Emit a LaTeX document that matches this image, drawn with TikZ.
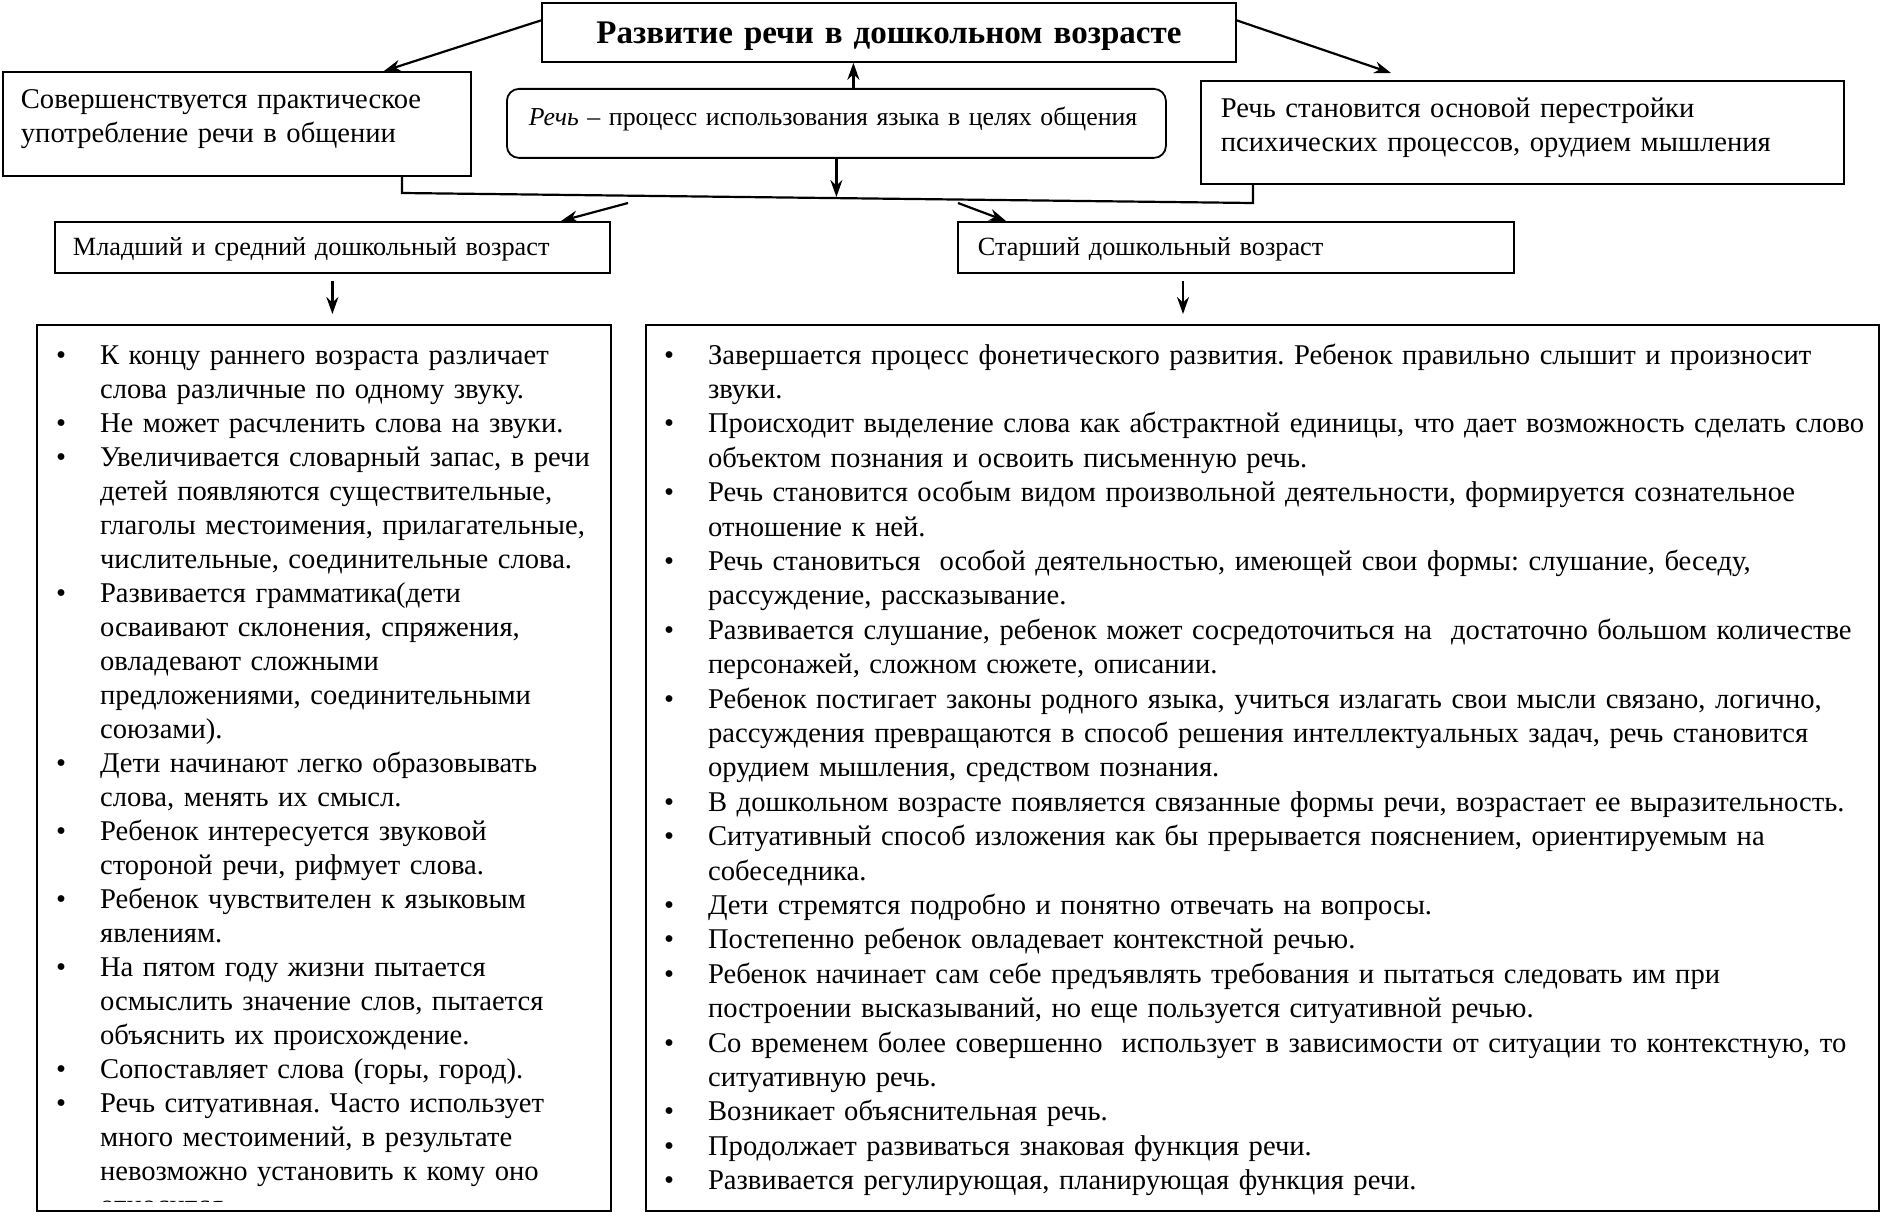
\documentclass[tikz,border=0pt]{standalone}
\usepackage{fontspec}
\setmainfont{Liberation Serif}
\usetikzlibrary{arrows.meta}
\frenchspacing

\newcommand\itm{\leavevmode\llap{\textbullet\hspace{34pt}}}

\begin{document}
\begin{tikzpicture}[x=1pt, y=-1pt, >={Stealth[length=17pt, width=12pt]}, line width=2.2pt,
    box/.style={draw, line width=1.8pt, inner ysep=0pt, anchor=north west, align=left,
                font=\fontsize{28.6}{34}\selectfont},
    small/.style={font=\fontsize{26.3}{30}\selectfont},
    lst/.style={inner sep=0pt, anchor=base west, align=left}]
    \useasboundingbox (0,0) rectangle (1880,1212);

    % Title
    \node[box, align=center, text width=694pt, inner xsep=0pt, text height=40.5pt, text depth=18.5pt,
          font=\fontsize{33}{40}\selectfont\bfseries] (ttl) at (541,2) {Развитие речи в дошкольном возрасте};

    % Top row
    \node[box, inner xsep=18pt, text width=432pt, text height=36.5pt, text depth=67.5pt] (prakt) at (2,71)
        {Совершенствуется практическое\\употребление речи в общении};
    \node[box, font=\fontsize{25.8}{30}\selectfont, rounded corners=12pt, inner xsep=22pt, text width=615pt,
          text height=37pt, text depth=32pt] (defn) at (506,88)
        {\mbox{\textit{Речь} – процесс использования языка в целях общения}};
    \node[box, inner xsep=20pt, text width=603pt, text height=37pt, text depth=66pt] (osnova) at (1200,80)
        {Речь становится основой перестройки\\психических процессов, орудием мышления};

    % Age groups
    \node[box, small, inner xsep=18pt, text width=519pt, text height=33.5pt, text depth=17.5pt] (mlad) at (54,221)
        {Младший и средний дошкольный возраст};
    \node[box, small, inner xsep=20pt, text width=516pt, text height=33.5pt, text depth=17.5pt] (star) at (957,221)
        {Старший дошкольный возраст};

    % List frames
    \node[box, minimum width=574pt, minimum height=886pt] (lspis) at (36,324) {};
    \node[box, minimum width=1233pt, minimum height=886pt] (rspis) at (645,324) {};

    % Arrows from the title and to it
    \draw[->] ([yshift=12pt]ttl.west) -- ([xshift=382pt]prakt.north west);
    \draw[->] ([yshift=12pt]ttl.east) -- ([xshift=191pt, yshift=7pt]osnova.north west);
    \coordinate (up) at ([xshift=17pt]defn.north);
    \draw[->] (up) -- (up |- ttl.south);

    % Joining line
    \coordinate (jl) at (402,193);
    \coordinate (jr) at (1253,203);
    \coordinate (jm) at (835,197);
    \draw ([xshift=400pt]prakt.south west) -- (jl) -- (jr) -- (jr |- osnova.south);
    \draw[->] (defn.south) -- (defn.south |- jm);

    % To the age groups
    \coordinate (ml0) at (628,203);
    \coordinate (st0) at (958,203);
    \draw[->] (ml0) -- ([xshift=507pt]mlad.north west);
    \draw[->] (st0) -- ([xshift=49pt]star.north west);

    % Down to the lists
    \coordinate (ma) at ([yshift=-7pt]mlad.south);
    \coordinate (mb) at (ma |- lspis.north);
    \draw[->] (ma) -- ([yshift=10pt]mb);
    \coordinate (sa) at ([xshift=226pt, yshift=-7pt]star.south west);
    \coordinate (sb) at (sa |- rspis.north);
    \draw[->] (sa) -- ([yshift=10pt]sb);

    % Left list
    \begin{scope}
        \clip (37,325) rectangle (609,1201);
        \node[lst, font=\fontsize{28.6}{34}\selectfont, text width=560pt] (ltxt) at (99,364) {%
\itm К концу раннего возраста различает\\
слова различные по одному звуку.\\
\itm Не может расчленить слова на звуки.\\
\itm Увеличивается словарный запас, в речи\\
детей появляются существительные,\\
глаголы местоимения, прилагательные,\\
числительные, соединительные слова.\\
\itm Развивается грамматика(дети\\
осваивают склонения, спряжения,\\
овладевают сложными\\
предложениями, соединительными\\
союзами).\\
\itm Дети начинают легко образовывать\\
слова, менять их смысл.\\
\itm Ребенок интересуется звуковой\\
стороной речи, рифмует слова.\\
\itm Ребенок чувствителен к языковым\\
явлениям.\\
\itm На пятом году жизни пытается\\
осмыслить значение слов, пытается\\
объяснить их происхождение.\\
\itm Сопоставляет слова (горы, город).\\
\itm Речь ситуативная. Часто использует\\
много местоимений, в результате\\
невозможно установить к кому оно\\
относится.};
    \end{scope}

    % Right list
    \node[lst, font=\fontsize{28.6}{34.4}\selectfont, text width=1200pt] (rtxt) at (707,364) {%
\itm Завершается процесс фонетического развития. Ребенок правильно слышит и произносит\\
звуки.\\
\itm Происходит выделение слова как абстрактной единицы, что дает возможность сделать слово\\
объектом познания и освоить письменную речь.\\
\itm Речь становится особым видом произвольной деятельности, формируется сознательное\\
отношение к ней.\\
\itm Речь становиться~ особой деятельностью, имеющей свои формы: слушание, беседу,\\
рассуждение, рассказывание.\\
\itm Развивается слушание, ребенок может сосредоточиться на~ достаточно большом количестве\\
персонажей, сложном сюжете, описании.\\
\itm Ребенок постигает законы родного языка, учиться излагать свои мысли связано, логично,\\
рассуждения превращаются в способ решения интеллектуальных задач, речь становится\\
орудием мышления, средством познания.\\
\itm В дошкольном возрасте появляется связанные формы речи, возрастает ее выразительность.\\
\itm Ситуативный способ изложения как бы прерывается пояснением, ориентируемым на\\
собеседника.\\
\itm Дети стремятся подробно и понятно отвечать на вопросы.\\
\itm Постепенно ребенок овладевает контекстной речью.\\
\itm Ребенок начинает сам себе предъявлять требования и пытаться следовать им при\\
построении высказываний, но еще пользуется ситуативной речью.\\
\itm Со временем более совершенно~ использует в зависимости от ситуации то контекстную, то\\
ситуативную речь.\\
\itm Возникает объяснительная речь.\\
\itm Продолжает развиваться знаковая функция речи.\\
\itm Развивается регулирующая, планирующая функция речи.};
\end{tikzpicture}
\end{document}
